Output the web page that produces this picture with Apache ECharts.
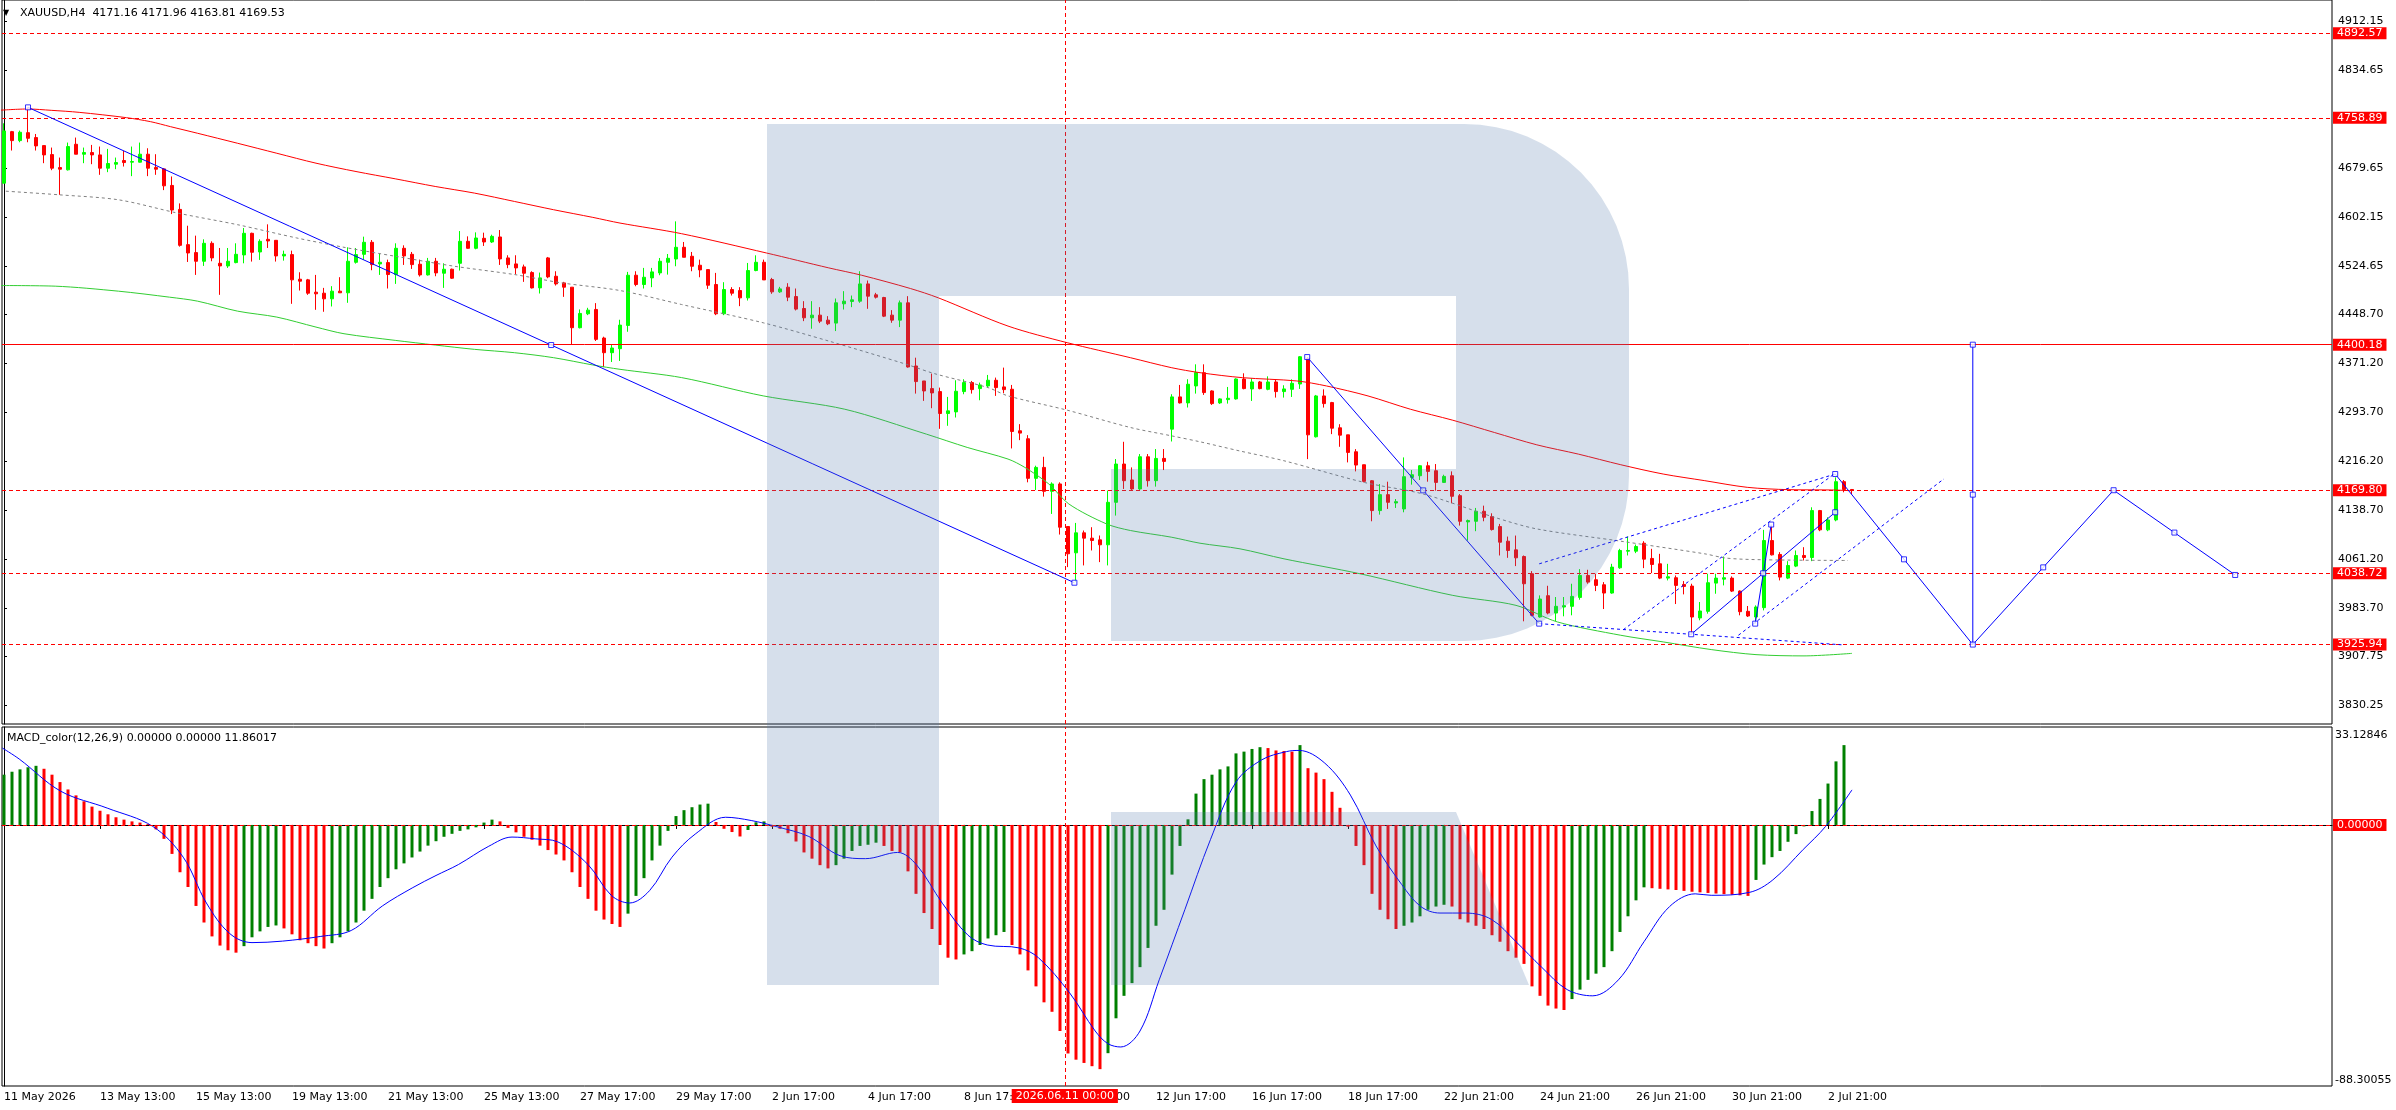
<!DOCTYPE html>
<html><head><meta charset="utf-8">
<script src="https://cdn.jsdelivr.net/npm/echarts@6/dist/echarts.min.js"></script>
<style>html,body{margin:0;padding:0;background:#fff;}#c{width:2396px;height:1110px;}</style>
</head><body><div id="c"></div>
<script>
// ---------- DATA ----------
// candles: [open, close, low, high] per H4 bar
const candles = [
[4655.6,4738.2,4655.6,4750.3],[4737.1,4722.9,4707.2,4738.2],[4722.9,4736.1,4720.3,4738.7],[4735.5,4726.6,4720.3,4775.5],
[4727.7,4714.5,4707.2,4733.4],[4715.0,4700.3,4687.2,4715.0],[4700.8,4679.3,4676.1,4711.9],[4680.3,4677.7,4637.2,4696.1],
[4676.7,4713.5,4675.6,4719.8],[4717.1,4701.4,4701.4,4727.7],[4701.4,4704.0,4687.2,4711.9],[4704.0,4700.3,4685.6,4716.1],
[4700.3,4679.3,4668.8,4713.5],[4679.3,4686.7,4673.0,4709.8],[4685.6,4688.2,4677.7,4696.1],[4691.4,4688.2,4681.9,4706.6],
[4688.8,4689.8,4666.7,4713.5],[4688.8,4701.4,4688.2,4719.8],[4701.4,4679.3,4666.7,4710.8],[4680.3,4677.7,4668.8,4701.4],
[4678.2,4651.4,4644.6,4679.3],[4652.0,4613.1,4606.7,4666.2],[4614.1,4557.3,4555.2,4623.6],[4558.4,4545.2,4531.0,4588.3],
[4545.8,4532.1,4510.5,4572.6],[4532.1,4560.5,4524.7,4566.8],[4560.5,4537.4,4532.1,4563.6],[4528.9,4524.7,4479.0,4553.1],
[4524.7,4532.1,4521.6,4553.1],[4530.0,4543.1,4528.9,4560.5],[4542.1,4576.3,4528.9,4584.7],[4576.3,4546.3,4531.6,4577.3],
[4546.8,4563.6,4534.2,4566.8],[4566.8,4564.2,4553.1,4590.5],[4565.2,4540.5,4531.6,4565.2],[4540.5,4543.1,4533.1,4548.9],
[4542.6,4502.7,4464.8,4548.9],[4503.7,4500.6,4485.8,4514.7],[4502.7,4481.6,4479.0,4504.2],[4483.2,4480.6,4455.3,4510.5],
[4481.6,4472.7,4452.2,4490.0],[4472.7,4484.8,4460.6,4492.7],[4484.8,4482.2,4482.2,4506.9],[4482.2,4532.1,4466.4,4554.2],
[4530.5,4542.6,4528.4,4553.1],[4543.1,4562.1,4534.7,4571.0],[4562.1,4526.8,4517.9,4565.7],[4527.9,4530.5,4510.5,4543.7],
[4530.0,4511.1,4489.0,4534.7],[4511.1,4552.6,4496.3,4560.5],[4552.6,4540.5,4526.3,4557.3],[4543.1,4526.8,4520.0,4546.8],
[4527.4,4510.5,4507.9,4534.7],[4510.5,4532.1,4509.5,4537.4],[4532.1,4513.7,4508.4,4537.4],[4513.2,4519.5,4490.0,4528.9],
[4519.5,4505.3,4504.2,4520.5],[4528.9,4563.6,4517.4,4579.9],[4563.6,4552.6,4552.1,4571.5],[4552.6,4568.9,4551.0,4577.8],
[4568.4,4562.6,4556.3,4577.3],[4562.6,4571.5,4561.0,4574.1],[4570.5,4535.8,4526.3,4581.5],[4537.4,4526.8,4521.1,4541.6],
[4527.9,4521.6,4511.6,4541.6],[4523.2,4513.2,4499.5,4526.8],[4514.2,4490.0,4489.0,4516.3],[4490.0,4505.8,4481.1,4514.2],
[4537.4,4507.4,4505.3,4538.9],[4508.4,4496.3,4493.7,4516.3],[4497.9,4491.1,4475.8,4499.5],[4491.1,4427.0,4400.7,4491.1],
[4427.0,4449.6,4425.9,4455.9],[4449.0,4454.8,4446.9,4458.5],[4455.9,4408.6,4406.0,4465.9],[4410.7,4387.5,4364.7,4412.8],
[4387.5,4394.9,4372.8,4399.6],[4393.8,4431.1,4374.4,4439.6],[4430.6,4510.0,4420.6,4515.3],[4510.0,4495.3,4492.6,4516.3],
[4495.3,4506.8,4489.0,4521.6],[4505.8,4515.3,4491.1,4521.6],[4513.7,4532.1,4510.0,4537.3],[4530.5,4536.8,4511.0,4543.6],
[4535.7,4554.2,4524.2,4595.2],[4554.2,4538.4,4538.4,4562.6],[4540.0,4524.2,4516.3,4546.8],[4525.8,4518.4,4506.8,4534.7],
[4518.9,4494.2,4488.4,4518.9],[4495.3,4449.0,4446.9,4513.7],[4449.0,4487.4,4446.9,4499.0],[4487.4,4481.6,4477.9,4491.1],
[4485.8,4474.2,4461.1,4491.1],[4474.2,4517.4,4470.0,4529.4],[4517.4,4530.5,4516.3,4541.5],[4530.5,4502.6,4502.6,4534.7],
[4503.2,4483.7,4480.6,4505.8],[4483.7,4488.4,4482.1,4491.6],[4491.1,4475.3,4469.0,4497.4],[4476.3,4456.4,4454.3,4489.0],
[4457.4,4442.7,4437.4,4469.0],[4442.7,4446.9,4425.4,4469.0],[4446.9,4437.4,4434.3,4459.5],[4439.0,4433.2,4431.1,4445.3],
[4434.3,4466.4,4421.7,4473.2],[4464.8,4469.0,4455.8,4484.8],[4468.5,4471.1,4459.5,4477.9],[4469.0,4496.3,4466.4,4516.3],
[4496.3,4476.9,4456.9,4501.6],[4479.0,4475.3,4473.2,4482.1],[4474.8,4445.3,4443.8,4475.8],[4446.9,4439.0,4434.8,4454.8],
[4439.0,4466.4,4428.0,4470.0],[4466.4,4364.9,4363.9,4476.9],[4366.5,4341.8,4322.8,4379.6],[4342.8,4327.0,4311.3,4342.8],
[4330.7,4323.9,4299.7,4354.4],[4326.0,4291.3,4267.1,4332.3],[4291.3,4295.5,4271.9,4317.6],[4293.9,4326.5,4285.0,4343.9],
[4326.0,4340.2,4321.8,4345.5],[4340.2,4329.1,4322.8,4342.8],[4330.7,4336.5,4312.3,4340.2],[4334.9,4343.9,4332.3,4352.3],
[4343.9,4332.3,4319.2,4348.1],[4333.4,4329.1,4323.4,4363.9],[4329.7,4262.9,4236.1,4336.5],[4264.0,4260.3,4249.2,4274.5],
[4251.4,4188.8,4182.5,4257.1],[4188.8,4206.1,4170.4,4208.8],[4206.1,4168.3,4159.9,4222.9],[4168.3,4179.9,4132.5,4182.5],
[4179.9,4111.5,4099.9,4182.5],[4112.6,4069.5,4048.4,4112.6],[4071.0,4102.6,4024.8,4118.3],[4102.6,4094.2,4051.1,4106.3],
[4094.2,4090.5,4074.7,4111.5],[4091.5,4083.7,4056.3,4098.4],[4083.7,4150.9,4051.1,4169.4],[4150.9,4211.4,4129.9,4219.3],
[4211.4,4185.1,4172.0,4246.6],[4186.2,4172.0,4170.4,4206.1],[4172.0,4222.9,4170.4,4227.2],[4222.9,4185.1,4175.7,4227.2],
[4185.1,4220.3,4175.7,4235.1],[4220.3,4215.6,4201.9,4235.1],[4266.6,4317.6,4247.1,4321.8],[4317.6,4308.1,4307.1,4336.5],
[4308.1,4337.6,4300.8,4345.5],[4334.9,4356.0,4322.8,4369.1],[4355.9,4324.4,4320.7,4369.1],[4327.0,4307.0,4304.9,4328.1],
[4308.1,4314.4,4306.5,4315.4],[4313.3,4315.4,4307.0,4333.3],[4314.4,4345.9,4313.3,4347.0],[4345.9,4330.7,4329.6,4354.9],
[4330.2,4341.2,4311.2,4347.0],[4341.2,4330.7,4329.6,4342.8],[4329.6,4341.2,4328.1,4350.1],[4341.2,4326.0,4316.5,4344.9],
[4326.0,4330.2,4316.5,4336.0],[4329.6,4339.1,4317.5,4345.4],[4338.0,4381.1,4330.2,4382.2],[4378.5,4257.6,4219.2,4380.6],
[4254.5,4319.1,4253.4,4320.7],[4319.1,4307.0,4300.7,4329.6],[4308.6,4268.1,4258.7,4309.7],[4268.7,4257.1,4238.7,4274.4],
[4257.6,4229.8,4214.0,4257.6],[4230.8,4209.8,4199.8,4235.0],[4210.3,4184.0,4182.4,4210.3],[4185.0,4137.8,4120.9,4186.1],
[4137.8,4163.0,4131.4,4179.8],[4163.0,4150.9,4140.4,4183.5],[4149.8,4151.9,4142.0,4156.1],[4140.4,4191.4,4135.1,4221.9],
[4190.3,4194.5,4178.8,4201.9],[4192.9,4208.7,4186.1,4209.8],[4208.7,4199.8,4183.5,4215.0],[4200.8,4182.4,4169.3,4211.4],
[4182.4,4191.9,4181.4,4194.5],[4192.9,4160.4,4149.3,4199.8],[4161.4,4120.9,4114.1,4164.0],[4119.9,4122.0,4090.4,4123.6],
[4120.9,4136.7,4105.2,4142.0],[4136.7,4127.2,4120.9,4145.6],[4128.3,4107.8,4106.2,4133.5],[4112.5,4087.8,4066.8,4116.7],
[4089.4,4074.7,4063.1,4096.7],[4075.7,4063.1,4050.0,4098.3],[4065.2,4022.1,3962.7,4066.8],[4037.9,3972.2,3970.6,4042.1],
[3969.5,3997.9,3968.5,4003.7],[4003.2,3975.8,3973.7,4018.9],[3975.8,3986.4,3963.2,4001.1],[3985.3,3987.4,3970.6,4001.1],
[3986.4,4002.1,3972.2,4022.1],[4000.5,4035.2,3996.8,4045.2],[4035.2,4024.7,4022.1,4044.2],[4028.4,4019.5,4010.5,4037.9],
[4020.5,4007.4,3982.1,4024.7],[4007.4,4048.4,4006.3,4053.6],[4047.3,4074.7,4045.7,4077.3],[4073.6,4074.7,4066.8,4096.7],
[4073.6,4081.0,4070.5,4084.1],[4086.2,4061.0,4046.8,4089.4],[4062.1,4052.6,4038.9,4077.3],[4053.6,4031.0,4029.4,4069.4],
[4031.0,4033.1,4027.4,4053.6],[4031.6,4019.5,3990.0,4035.2],[4021.0,4017.9,4005.3,4026.3],[4018.4,3969.5,3943.2,4022.1],
[3968.0,3979.0,3964.3,3993.2],[3978.5,4023.7,3974.8,4037.9],[4023.1,4031.0,4006.3,4037.9],[4029.4,4031.6,4019.5,4065.2],
[4031.0,4010.5,4009.0,4033.7],[4010.5,3977.9,3972.2,4011.6],[3978.5,3971.1,3969.5,3986.9],[3969.5,3985.3,3961.6,3987.9],
[3984.3,4090.4,3980.0,4107.3],[4090.4,4067.8,4066.8,4114.1],[4068.4,4032.6,4027.4,4072.1],[4031.0,4051.0,4029.4,4057.8],
[4050.0,4066.8,4048.4,4074.7],[4066.8,4063.6,4058.9,4079.9],[4063.6,4137.8,4057.8,4143.0],[4137.8,4107.3,4105.2,4138.8],
[4107.3,4123.0,4105.2,4127.2],[4123.0,4183.5,4120.9,4190.3],[4183.5,4171.2,4166.7,4186.1],[4171.16,4169.53,4163.81,4171.96]
];

// moving averages sampled along the curves: [bar index, price]
const maRed = [[-0.5,4771],[3.0,4772.9],[5.9,4770.8],[9.4,4767.6],[15.3,4759.2],[18.3,4752.9],[20.8,4745.0],[24.2,4734.5],
[29.2,4718.7],[34.1,4702.9],[39.0,4687.2],[44.0,4674.0],[48.9,4662.5],[53.9,4650.4],[58.8,4639.9],[63.8,4626.7],[68.7,4613.6],
[73.6,4601.5],[77.0,4592.5],[84.7,4575.7],[95.3,4545.2],[103.1,4521.6],[107.2,4510.0],[113.3,4489.0],[116.8,4474.2],
[125.5,4429.6],[132.9,4403.3],[140.8,4379.6],[145.9,4363.9],[149.5,4355.9],[154.8,4348.0],[161.6,4342.8],[165.3,4334.9],
[170.5,4319.1],[175.8,4298.1],[181.1,4280.7],[186.3,4261.3],[191.6,4241.8],[196.8,4227.1],[202.1,4210.3],[207.4,4195.6],
[212.6,4185.1],[217.9,4174.6],[223.1,4170.9],[228.4,4170.4],[230.8,4169.3]];
const maGreen = [[-0.5,4493.7],[6.4,4492.7],[14.3,4484.8],[20.7,4475.3],[24.2,4469.0],[29.2,4453.2],[34.1,4443.8],[39.0,4428.0],
[42.5,4417.5],[48.9,4407.0],[53.9,4399.6],[58.8,4392.8],[63.8,4387.5],[68.7,4379.6],[73.6,4368.1],[77.0,4361.2],[84.7,4348.1],
[94.9,4319.2],[105.1,4298.1],[115.3,4258.7],[120.4,4237.7],[125.5,4219.3],[127.6,4206.1],[130.6,4179.9],[133.1,4148.3],
[137.8,4116.8],[140.8,4106.3],[145.9,4095.8],[149.5,4086.2],[154.5,4077.3],[160.0,4061.5],[169.5,4037.9],[181.1,4003.7],
[189.0,3987.9],[194.2,3961.6],[202.1,3940.6],[207.4,3930.1],[213.4,3918.0],[219.0,3910.0],[225.0,3908.0],[231.0,3912.0]];
const maGray = [[-0.5,4643.5],[6.9,4637.2],[14.3,4629.3],[21.7,4608.3],[29.2,4589.9],[36.6,4568.9],[42.5,4554.2],[48.9,4540.0],
[56.3,4524.2],[63.8,4511.1],[69.7,4497.9],[77.0,4485.8],[84.7,4463.7],[94.9,4434.8],[103.1,4405.9],[112.8,4369.1],
[116.3,4354.4],[123.0,4332.3],[125.5,4319.2],[132.9,4296.6],[140.8,4269.2],[145.9,4256.1],[149.5,4246.6],[154.5,4232.0],
[160.0,4216.6],[170.0,4182.4],[177.4,4164.0],[186.3,4127.2],[191.6,4108.8],[202.1,4089.4],[212.6,4069.4],[215.3,4062.6],
[220.0,4060.0],[230.5,4058.9]];

// MACD histogram (one value per bar; the forming bar shows 0) and signal line samples
const macdHist = [17.0,18.0,18.8,19.5,20.0,19.0,17.0,14.5,12.0,10.0,8.0,6.2,4.8,3.6,2.6,1.8,1.2,0.8,0.3,-1.5,
-4.7,-9.8,-16.0,-21.0,-27.4,-33.0,-37.7,-40.8,-42.4,-43.2,-41.0,-38.0,-36.0,-34.5,-34.0,-35.0,-37.0,-39.0,-40.0,-41.0,
-41.8,-40.0,-38.0,-36.0,-33.0,-29.0,-25.0,-21.0,-18.0,-15.0,-13.0,-11.0,-9.0,-7.0,-5.5,-4.0,-3.0,-2.0,-1.5,-0.8,
0.8,1.8,1.2,-1.0,-2.5,-4.0,-5.0,-7.0,-8.5,-10.0,-12.0,-16.0,-21.0,-25.0,-29.0,-32.0,-33.5,-34.5,-30.0,-24.0,
-18.0,-12.0,-7.0,-2.0,3.0,5.0,6.0,6.9,7.2,1.0,-1.3,-2.4,-3.9,-1.7,0.9,1.2,-0.6,-1.3,-2.8,-5.6,
-9.3,-11.4,-13.6,-14.7,-13.6,-11.4,-8.8,-7.1,-6.7,-6.0,-7.1,-8.8,-9.3,-15.7,-23.3,-29.8,-35.2,-40.6,-44.9,-45.5,
-43.8,-42.7,-40.6,-38.4,-37.3,-36.2,-40.6,-43.8,-49.2,-54.6,-60.0,-63.2,-69.7,-77.3,-79.4,-80.5,-81.6,-82.6,-77.2,-65.4,
-57.8,-53.5,-48.1,-41.6,-34.1,-28.7,-16.8,-7.1,1.9,10.6,15.5,17.0,18.8,19.8,24.2,24.8,25.7,26.3,26.0,25.2,
25.0,24.8,27.0,19.2,17.7,15.5,11.2,5.8,-0.6,-7.1,-13.6,-23.3,-28.7,-31.9,-35.2,-34.1,-33.0,-30.9,-28.7,-27.6,
-27.0,-27.6,-31.9,-33.0,-34.1,-35.2,-37.3,-39.5,-42.7,-44.9,-47.0,-54.6,-57.8,-61.1,-62.1,-62.6,-58.9,-55.7,-52.4,-50.3,
-48.1,-42.7,-36.2,-30.9,-25.5,-21.1,-21.4,-21.6,-21.8,-22.0,-22.3,-22.6,-22.8,-23.0,-23.2,-23.4,-23.6,-23.8,-24.0,-18.6,
-13.4,-10.9,-8.8,-5.7,-3.1,-0.5,4.7,8.8,14.0,21.5,27.0,0];
const macdSignal = [[-0.2,26],[1.9,22.3],[7.1,11.4],[12.9,5.7],[18.6,-0.5],[22.4,-10.9],[25.3,-26.4],[28.2,-36.7],[31.0,-39.8],
[34.8,-39.3],[39.6,-37.7],[43.4,-35.7],[47.3,-27.4],[51.1,-21.2],[54.0,-17.1],[56.8,-13.4],[60.6,-7.2],[63.5,-4.1],[66.4,-4.7],
[69.2,-5.7],[73.0,-13.4],[75.9,-23.8],[78.2,-26.4],[80.7,-22.2],[83.5,-10.9],[86.4,-3.1],[90.2,2.6],[93.4,1.5],[96.6,-0.6],
[100.6,-3.9],[104.5,-10.4],[107.7,-11.4],[111.7,-9.3],[114.1,-13.6],[117.3,-26.5],[120.5,-37.3],[122.9,-40.6],[126.9,-41.6],
[129.3,-44.9],[133.2,-56.8],[136.4,-69.7],[138.0,-74.0],[139.6,-75.1],[142.0,-69.7],[144.4,-52.4],[147.6,-28.7],[150.8,-5.0],
[154.0,14.5],[157.2,22.0],[160.3,24.8],[161.9,25.2],[165.1,20.9],[168.3,10.1],[171.5,-7.1],[174.7,-20.1],[177.1,-27.6],
[179.5,-29.8],[182.7,-29.8],[185.9,-31.9],[189.0,-39.5],[192.2,-48.1],[195.4,-55.7],[198.6,-57.8],[201.8,-52.4],[205.0,-39.5],
[208.2,-27.6],[211.4,-23.3],[213.4,-23.8],[218.2,-22.8],[221.1,-18.6],[224.9,-8.3],[227.7,-0.5],[231.0,11.86]];

// axes
const priceTicks = [4912.15,4834.65,4679.65,4602.15,4524.65,4448.70,4371.20,4293.70,4216.20,4138.70,4061.20,3983.70,3907.75,3830.25];
const xLabelIdx = [0,12,24,36,48,60,72,84,96,108,120,132,144,156,168,180,192,204,216,228];
const xLabels = ['11 May 2026','13 May 13:00','15 May 13:00','19 May 13:00','21 May 13:00','25 May 13:00','27 May 17:00',
'29 May 17:00','2 Jun 17:00','4 Jun 17:00','8 Jun 17:00','10 Jun 17:00','12 Jun 17:00','16 Jun 17:00','18 Jun 17:00',
'22 Jun 21:00','24 Jun 21:00','26 Jun 21:00','30 Jun 21:00','2 Jul 21:00'];
const PRICE_MAX = 4945.27, PRICE_MIN = 3800.29;
const MACD_MAX = 33.12846, MACD_MIN = -88.30055;
const X_MIN = -0.25, X_MAX = 291;

// horizontal levels
const dashedLevels = [4892.57,4758.89,4169.80,4038.72,3925.94];
const solidLevels = [4400.18];
const crosshairIdx = 132.6, crosshairLabel = '2026.06.11 00:00';

// drawn trend lines: [bar index, price] end points
const solidLines = [
 [[3,4775.5],[133.8,4023.7]],
 [[162.9,4380.6],[191.9,3959.0]],
 [[210.9,3942.2],[228.9,4135.1]],
 [[218.9,3959.0],[220.9,4115.7]],
 [[228.9,4195.6],[246.1,3925.9]],
 [[246.1,3925.9],[246.1,4400.18]],
 [[246.1,3925.9],[263.7,4170.0]],
 [[263.7,4170.0],[278.9,4036.0]]
];
const dashedLines = [
 [[191.9,3959.0],[229.9,3925.4]],
 [[191.9,4053.6],[228.9,4195.6]],
 [[202.4,3949.3],[228.7,4195.0]],
 [[216.8,3940.6],[242.5,4188.0]]
];
const anchors = [[3,4775.5],[68.4,4399.6],[133.8,4023.7],[162.9,4380.6],[177.4,4169.8],[191.9,3959.0],[210.9,3942.2],
[219.9,4038.6],[228.9,4135.1],[218.9,3959.0],[220.9,4115.7],[228.9,4195.6],[237.5,4060.7],[246.1,3925.9],[246.1,4163.0],
[246.1,4400.18],[254.9,4048.0],[263.7,4170.0],[271.3,4103.0],[278.9,4036.0]];

// ---------- CHART ----------
const FONT = 'DejaVu Sans';
const RED = '#ff0000', LIME = '#00ff00', BLUE = '#0000ff';
const chart = echarts.init(document.getElementById('c'), null, {renderer: 'canvas', width: 2396, height: 1110});

function arcPts(cx, cy, r, a0, a1, n) {
  const out = [];
  for (let k = 0; k <= n; k++) {
    const a = (a0 + (a1 - a0) * k / n) * Math.PI / 180;
    out.push([cx + r * Math.cos(a), cy + r * Math.sin(a)]);
  }
  return out;
}
const logoBody = [[767,124]].concat(arcPts(1464,289,165,-90,0,16), arcPts(1464,476,165,0,90,16),
  [[1111,641],[1111,469],[1456,469],[1456,296],[939,296],[939,985],[767,985]]);
const logoLeg = [[1111,812],[1456,812],[1529,985],[1111,985]];
const LOGO_FILL = 'rgba(82,123,173,0.24)';

const levelMarks = dashedLevels.concat(solidLevels).map(v => ({
  yAxis: v,
  lineStyle: {color: RED, width: 1, type: solidLevels.includes(v) ? 'solid' : [4, 3]},
  label: {show: true, position: 'end', formatter: v.toFixed(2), color: '#fff', backgroundColor: RED,
          fontFamily: FONT, fontSize: 11, padding: [1, 4, 0, 4], distance: 1}
}));

const series = [];
series.push({
  type: 'candlestick', xAxisIndex: 0, yAxisIndex: 0,
  data: candles.map((c, i) => [i, c[0], c[1], c[2], c[3]]),
  barWidth: 4,
  itemStyle: {color: LIME, color0: RED, borderColor: LIME, borderColor0: RED, borderWidth: 1},
  silent: true, z: 3,
  markLine: {
    silent: true, symbol: ['none', 'none'], animation: false,
    data: levelMarks.concat([{xAxis: crosshairIdx, lineStyle: {color: RED, width: 1, type: [4, 3]}, label: {show: false}}])
  }
});
series.push({type: 'line', xAxisIndex: 0, yAxisIndex: 0, data: maRed, showSymbol: false, smooth: 0.3,
  lineStyle: {color: RED, width: 1}, silent: true, z: 4});
series.push({type: 'line', xAxisIndex: 0, yAxisIndex: 0, data: maGreen, showSymbol: false, smooth: 0.3,
  lineStyle: {color: '#32cd32', width: 1}, silent: true, z: 4});
series.push({type: 'line', xAxisIndex: 0, yAxisIndex: 0, data: maGray, showSymbol: false, smooth: 0.3,
  lineStyle: {color: '#808080', width: 1, type: [3, 3]}, silent: true, z: 4});
solidLines.forEach(l => series.push({type: 'line', xAxisIndex: 0, yAxisIndex: 0, data: l, showSymbol: false,
  lineStyle: {color: BLUE, width: 1}, silent: true, z: 5}));
dashedLines.forEach(l => series.push({type: 'line', xAxisIndex: 0, yAxisIndex: 0, data: l, showSymbol: false,
  lineStyle: {color: BLUE, width: 1, type: [3, 3]}, silent: true, z: 5}));
series.push({type: 'scatter', xAxisIndex: 0, yAxisIndex: 0, data: anchors, symbol: 'rect', symbolSize: 5,
  itemStyle: {color: '#ffffff', borderColor: BLUE, borderWidth: 1}, silent: true, z: 6});

series.push({
  type: 'bar', xAxisIndex: 1, yAxisIndex: 1, barWidth: 3, silent: true,
  data: macdHist.map((v, i) => [i, v]),
  itemStyle: {color: p => (p.dataIndex > 0 && macdHist[p.dataIndex] < macdHist[p.dataIndex - 1]) ? RED : '#008000'},
  markLine: {
    silent: true, symbol: ['none', 'none'], animation: false,
    data: [
      {yAxis: 0, lineStyle: {color: RED, width: 1, type: [4, 3]},
       label: {show: true, position: 'end', formatter: (0).toFixed(5), color: '#fff', backgroundColor: RED,
               fontFamily: FONT, fontSize: 11, padding: [1, 4, 0, 4], distance: 1}},
      {xAxis: crosshairIdx, lineStyle: {color: RED, width: 1, type: [4, 3]},
       label: {show: true, position: 'start', formatter: crosshairLabel, color: '#fff', backgroundColor: RED,
               fontFamily: FONT, fontSize: 11, padding: [2, 4, 1, 4], distance: 3}}
    ]
  }
});
series.push({type: 'line', xAxisIndex: 1, yAxisIndex: 1, data: macdSignal, showSymbol: false, smooth: 0.35,
  lineStyle: {color: BLUE, width: 1}, silent: true, z: 4});

const axisLbl = {color: '#000', fontFamily: FONT, fontSize: 11};
chart.setOption({
  animation: false,
  backgroundColor: '#ffffff',
  grid: [
    {left: 2, right: 64, top: -2, height: 726, show: true, borderColor: '#000', borderWidth: 1, backgroundColor: 'transparent'},
    {left: 2, right: 64, top: 727, height: 359, show: true, borderColor: '#000', borderWidth: 1, backgroundColor: 'transparent'}
  ],
  xAxis: [
    {gridIndex: 0, type: 'value', min: X_MIN, max: X_MAX, show: false},
    {gridIndex: 1, type: 'value', min: X_MIN, max: X_MAX,
     axisLine: {show: true, lineStyle: {color: '#000'}},
     axisTick: {show: true, customValues: xLabelIdx, length: 4, lineStyle: {color: '#000'}},
     axisLabel: Object.assign({show: true, customValues: xLabelIdx, align: 'left', margin: 6,
       formatter: v => xLabels[xLabelIdx.indexOf(Math.round(v))] || ''}, axisLbl),
     splitLine: {show: false}}
  ],
  yAxis: [
    {gridIndex: 0, type: 'value', position: 'right', min: PRICE_MIN, max: PRICE_MAX, scale: true,
     axisLine: {show: true, lineStyle: {color: '#000'}},
     axisTick: {show: true, customValues: priceTicks, length: 3, lineStyle: {color: '#000'}},
     axisLabel: Object.assign({show: true, customValues: priceTicks, margin: 6, formatter: v => v.toFixed(2)}, axisLbl),
     splitLine: {show: false}},
    {gridIndex: 1, type: 'value', position: 'right', min: MACD_MIN, max: MACD_MAX,
     axisLine: {show: true, lineStyle: {color: '#000'}},
     axisTick: {show: false},
     axisLabel: Object.assign({show: true, customValues: [MACD_MAX - 2.7, MACD_MIN + 2.0], margin: 3,
       formatter: v => (v > 0 ? MACD_MAX : MACD_MIN).toFixed(5)}, axisLbl),
     splitLine: {show: false}}
  ],
  graphic: [
    {type: 'polygon', shape: {points: logoBody}, style: {fill: LOGO_FILL}, z: 100, silent: true},
    {type: 'polygon', shape: {points: logoLeg}, style: {fill: LOGO_FILL}, z: 100, silent: true},
    {type: 'text', x: 3, y: 13, style: {text: '▼', font: '8px "DejaVu Sans"', fill: '#000', verticalAlign: 'middle'}, z: 101},
    {type: 'text', x: 20, y: 13, style: {text: 'XAUUSD,H4  4171.16 4171.96 4163.81 4169.53', font: '11px "DejaVu Sans"',
      fill: '#000', verticalAlign: 'middle'}, z: 101},
    {type: 'text', x: 7, y: 738, style: {text: 'MACD_color(12,26,9) 0.00000 0.00000 11.86017', font: '11px "DejaVu Sans"',
      fill: '#000', verticalAlign: 'middle'}, z: 101}
  ],
  series: series
});
</script>
</body></html>
